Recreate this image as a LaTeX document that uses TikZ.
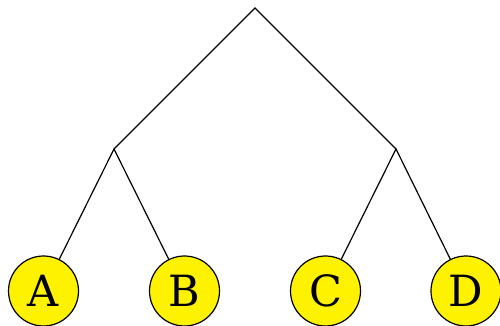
\documentclass[tikz,border=0pt]{standalone}
\usepackage{fontspec}
\setmainfont{DejaVu Serif}
\usepackage{tikz}
\usetikzlibrary{positioning}

\tikzset{
  leaf/.style={circle, draw=black, fill=yellow, line width=1.2pt, minimum size=70pt, inner sep=0pt, font=\fontsize{43}{43}\selectfont},
  branch/.style={line width=1.2pt}
}

\begin{document}
\begin{tikzpicture}[x=1pt, y=1pt]
  \useasboundingbox (0,0) rectangle (500,326);
  % Inner points of the tree
  \coordinate (root) at (255,318);
  \coordinate (left) at (114,177);
  \coordinate (right) at (396,177);
  % Leaves
  \node[leaf] (A) at (43.5,35) {A};
  \node[leaf] (B) at (184.5,35) {B};
  \node[leaf] (C) at (325.5,35) {C};
  \node[leaf] (D) at (466,35) {D};
  % Branches
  \draw[branch] (left) -- (root) -- (right);
  \draw[branch] (A) -- (left) -- (B);
  \draw[branch] (C) -- (right) -- (D);
\end{tikzpicture}
\end{document}
